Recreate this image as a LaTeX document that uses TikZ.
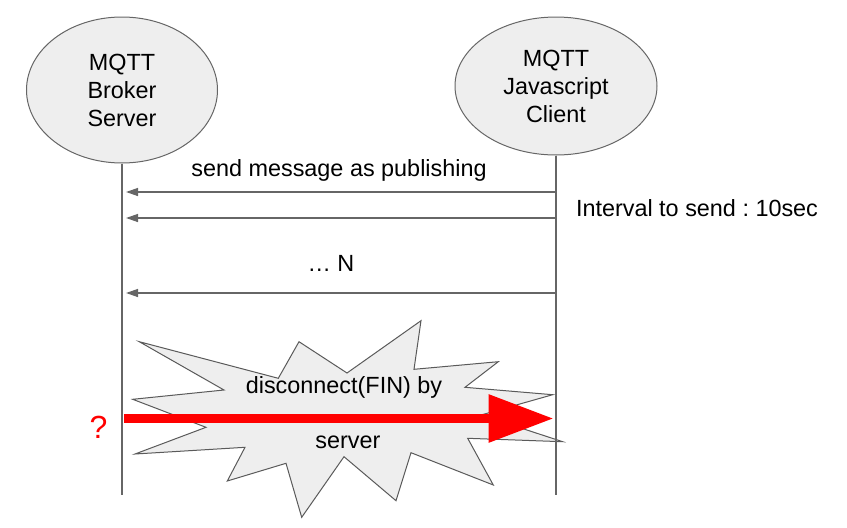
\documentclass[tikz,border=0pt]{standalone}
\usepackage{fontspec}
\setmainfont{Liberation Sans}
\usetikzlibrary{shapes.geometric,arrows.meta}
\frenchspacing

\definecolor{lineGray}{HTML}{666666}
\definecolor{burstGray}{HTML}{5A5A5A}
\definecolor{fillGray}{HTML}{EEEEEE}

\begin{document}
\begin{tikzpicture}[x=1pt,y=-1pt,
    every node/.style={font=\fontsize{23.4}{28}\selectfont,inner sep=0pt},
    actor/.style={ellipse,draw=lineGray,fill=fillGray,line width=1pt,align=center},
    lifeline/.style={draw=lineGray,line width=1.3pt},
    msg/.style={draw=lineGray,line width=1.3pt,shorten >=4pt,-{Triangle[length=12pt,width=8pt]}},
    burst/.style={draw=burstGray,fill=fillGray,line width=1pt},
    fin/.style={draw=red,line width=9.5pt,-{Triangle[length=65pt,width=46pt]}}]
  \useasboundingbox (0,0) rectangle (847,528);

  % burst behind the disconnect
  \draw[burst] (139.3,341.7) -- (278.3,378.3) -- (299,341.7) -- (347,373)
    -- (421,320.7) -- (414,369.3) -- (498.3,361.7) -- (465,387.3)
    -- (552.7,394.7) -- (481,415) -- (562.7,441.7) -- (467.7,438.3)
    -- (493.3,485) -- (411,452.7) -- (396,500.7) -- (344,456.7)
    -- (301.7,517.3) -- (286,463.3) -- (227.3,481) -- (245,447.3)
    -- (135,454) -- (206,427.3) -- (132.7,399.3) -- (224,390) -- cycle;

  % actors
  \node[actor,minimum width=191pt,minimum height=146pt] (broker) at (122,90) {MQTT\\Broker\\Server};
  \node[actor,minimum width=202pt,minimum height=138pt] (client) at (556,86) {MQTT\\Javascript\\Client};

  \coordinate (brokerEnd) at (122,495);
  \coordinate (clientEnd) at (556,495);
  \draw[lifeline] (broker) -- (brokerEnd);
  \draw[lifeline] (client) -- (clientEnd);

  % publish messages
  \foreach \n/\y in {1/192,2/218,3/293} {
    \coordinate (b\n) at (122,\y);
    \coordinate (c\n) at (556,\y);
  }
  \path
    (c1) edge[msg] node[above=10pt] {send message as publishing} (b1)
    (c2) edge[msg] (b2)
    (c3) edge[msg] node[above=21pt,xshift=-8pt] {… N} (b3);
  \node (interval) at (697,208) {Interval to send : 10sec};

  % FIN from the broker
  \coordinate (finFrom) at (124,418.5);
  \coordinate (finTo) at (553.5,418.5);
  \draw[fin] (finFrom) -- (finTo);
  \node[anchor=base] (finTop) at (344,393) {disconnect(FIN) by};
  \node[anchor=base] (finBottom) at (348,448) {server};
  \node[text=red,font=\fontsize{32}{36}\selectfont] (unknown) at (98.5,427) {?};
\end{tikzpicture}
\end{document}
